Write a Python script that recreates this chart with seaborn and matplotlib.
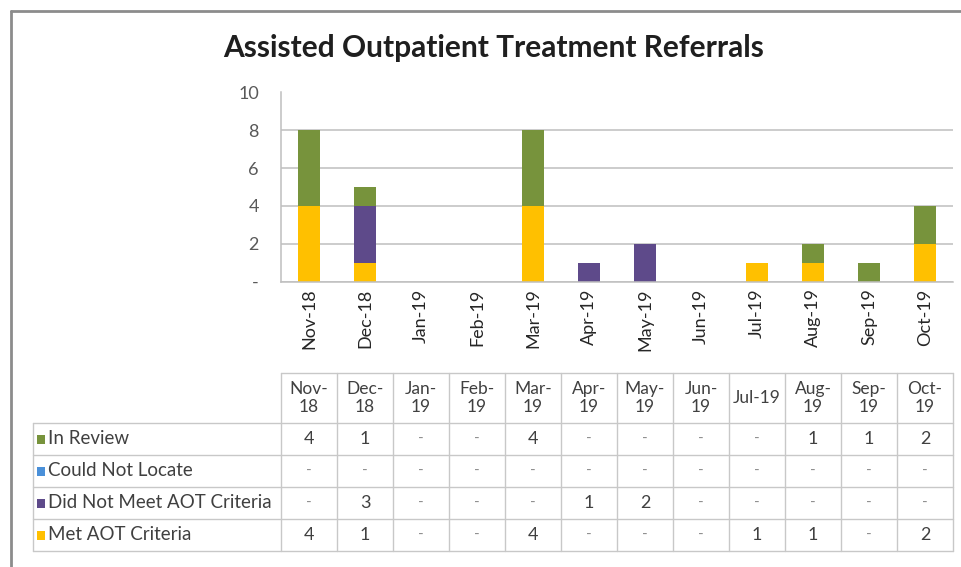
import matplotlib
matplotlib.use("Agg")
import matplotlib.pyplot as plt
import seaborn as sns
import pandas as pd
from matplotlib.lines import Line2D
from matplotlib.patches import Rectangle

# ---------------- data ----------------
months = ["Nov-18", "Dec-18", "Jan-19", "Feb-19", "Mar-19", "Apr-19",
          "May-19", "Jun-19", "Jul-19", "Aug-19", "Sep-19", "Oct-19"]
header_labels = ["Nov-\n18", "Dec-\n18", "Jan-\n19", "Feb-\n19", "Mar-\n19", "Apr-\n19",
                 "May-\n19", "Jun-\n19", "Jul-19", "Aug-\n19", "Sep-\n19", "Oct-\n19"]
in_review = [4, 1, 0, 0, 4, 0, 0, 0, 0, 1, 1, 2]
could_not_locate = [0, 0, 0, 0, 0, 0, 0, 0, 0, 0, 0, 0]
did_not_meet = [0, 3, 0, 0, 0, 1, 2, 0, 0, 0, 0, 0]
met_criteria = [4, 1, 0, 0, 4, 0, 0, 0, 1, 1, 0, 2]
series_names = ["In Review", "Could Not Locate", "Did Not Meet AOT Criteria", "Met AOT Criteria"]
y_ticks = [0, 2, 4, 6, 8, 10]
y_tick_labels = ["-", "2", "4", "6", "8", "10"]
title = "Assisted Outpatient Treatment Referrals"

colors = {
    "In Review": "#77933C",
    "Could Not Locate": "#4A90D9",
    "Did Not Meet AOT Criteria": "#5E4A8A",
    "Met AOT Criteria": "#FFC000",
}

# ---------------- figure ----------------
sns.set_theme(style="white")
plt.rcParams["font.family"] = ["Lato", "DejaVu Sans"]

W, H = 961, 567
fig = plt.figure(figsize=(W / 100, H / 100), dpi=100)
fig.patch.set_facecolor("white")

def fx(px):
    return px / W

def fy(py):
    return 1 - py / H

ax_left, ax_right, ax_top, ax_bot = 281, 953, 92.5, 281.5
ax = fig.add_axes([fx(ax_left), fy(ax_bot), fx(ax_right) - fx(ax_left), fy(ax_top) - fy(ax_bot)])

df = pd.DataFrame({
    "month": months,
    "met": met_criteria,
    "dnm": did_not_meet,
    "cnl": could_not_locate,
    "rev": in_review,
})
df["c1"] = df["met"]
df["c2"] = df["c1"] + df["dnm"]
df["c3"] = df["c2"] + df["cnl"]
df["c4"] = df["c3"] + df["rev"]

layers = [("c4", "In Review"), ("c3", "Could Not Locate"),
          ("c2", "Did Not Meet AOT Criteria"), ("c1", "Met AOT Criteria")]
for col, name in layers:
    sns.barplot(data=df, x="month", y=col, order=months, color=colors[name],
                saturation=1, width=0.39, errorbar=None, ax=ax, linewidth=0)

ax.set_ylim(0, 10)
ax.set_xlim(-0.5, len(months) - 0.5)
ax.set_yticks(y_ticks)
ax.set_yticklabels(y_tick_labels)
ax.set_xlabel("")
ax.set_ylabel("")
ax.set_axisbelow(True)
ax.yaxis.grid(True, color="#BFBFBF", linewidth=1.1)
ax.xaxis.grid(False)
for s in ["top", "right"]:
    ax.spines[s].set_visible(False)
for s in ["left", "bottom"]:
    ax.spines[s].set_color("#BFBFBF")
    ax.spines[s].set_linewidth(1.1)
ax.tick_params(axis="y", length=0, pad=16, labelsize=13, labelcolor="#595959")
ax.tick_params(axis="x", length=0, pad=5, labelsize=13, labelcolor="#262626")
for lab in ax.get_xticklabels():
    lab.set_rotation(90)

# ---------------- title ----------------
fig.text(fx(493.5), fy(48), title, ha="center", va="center",
         fontsize=21.5, fontweight="bold", color="#1F1F1F")

# ---------------- outer frame (cropped screenshot) ----------------
fig.add_artist(Line2D([fx(11), fx(11)], [fy(11), 0], color="#8C8C8C", lw=2))
fig.add_artist(Line2D([fx(11), 1], [fy(11), fy(11)], color="#8C8C8C", lw=2))

# ---------------- data table ----------------
grid_c = "#C8C8C8"
col_w = (ax_right - ax_left) / len(months)
col_edges = [ax_left + i * col_w for i in range(len(months) + 1)]
head_top, head_bot = 373, 423
row_edges = [423, 455, 487, 519, 551]
lab_left = 33

fig.add_artist(Line2D([fx(ax_left), fx(ax_right)], [fy(head_top)] * 2, color=grid_c, lw=1))
for ry in row_edges:
    fig.add_artist(Line2D([fx(lab_left), fx(ax_right)], [fy(ry)] * 2, color=grid_c, lw=1))
for cx in col_edges:
    fig.add_artist(Line2D([fx(cx)] * 2, [fy(head_top), fy(row_edges[-1])], color=grid_c, lw=1))
fig.add_artist(Line2D([fx(lab_left)] * 2, [fy(row_edges[0]), fy(row_edges[-1])], color=grid_c, lw=1))

for i, hl in enumerate(header_labels):
    cx = (col_edges[i] + col_edges[i + 1]) / 2
    fig.text(fx(cx), fy((head_top + head_bot) / 2), hl, ha="center", va="center",
             fontsize=12.5, color="#404040", linespacing=1.1)

row_values = [in_review, could_not_locate, did_not_meet, met_criteria]
for r, name in enumerate(series_names):
    cy = (row_edges[r] + row_edges[r + 1]) / 2
    fig.add_artist(Rectangle((fx(37), fy(cy + 4.5)), fx(8), fy(cy - 4.5) - fy(cy + 4.5),
                             transform=fig.transFigure, facecolor=colors[name],
                             edgecolor="none"))
    fig.text(fx(48), fy(cy), name, ha="left", va="center", fontsize=13.5, color="#404040")
    for i, v in enumerate(row_values[r]):
        cx = (col_edges[i] + col_edges[i + 1]) / 2
        if v == 0:
            fig.text(fx(cx), fy(cy), "-", ha="center", va="center", fontsize=11, color="#8C8C8C")
        else:
            fig.text(fx(cx), fy(cy), str(v), ha="center", va="center", fontsize=13, color="#404040")

fig.savefig("out.png", dpi=100, facecolor="white")
